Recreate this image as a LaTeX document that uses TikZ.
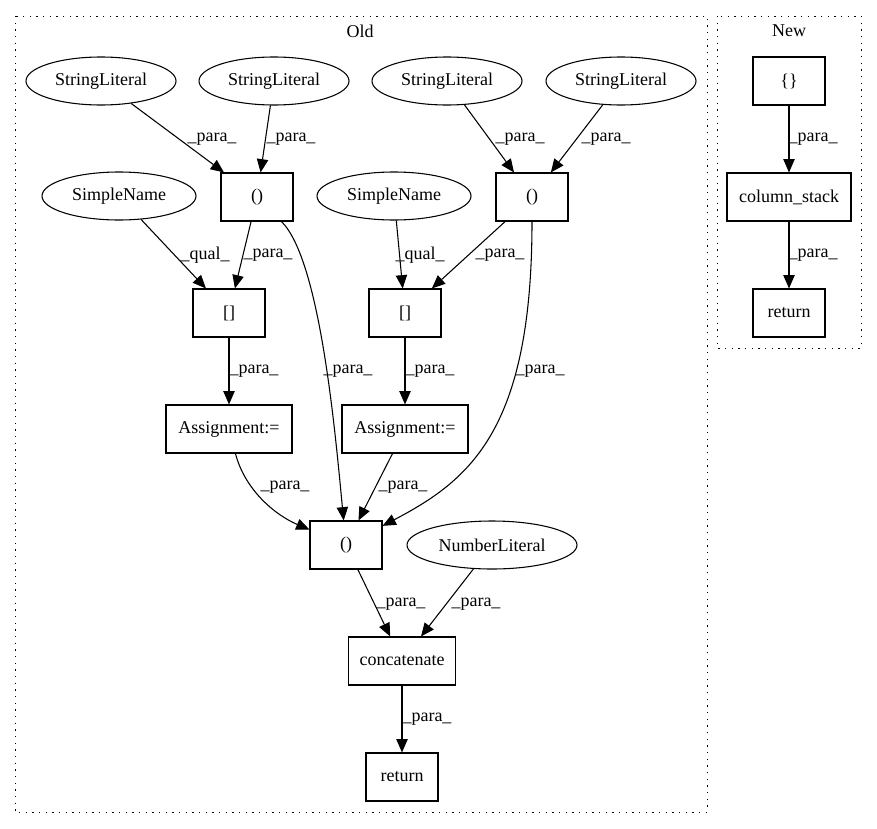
\documentclass[tikz,border=0pt]{standalone}
\usepackage{fontspec}
\setmainfont{Liberation Serif}
\usetikzlibrary{shapes.geometric,arrows.meta}
\tikzset{
  lit/.style={draw, ellipse, inner sep=0pt, minimum height=36pt, minimum width=112.5pt},
  op/.style={draw, rectangle, inner sep=0pt, minimum height=36pt, minimum width=54pt},
  flow/.style={-{Triangle[length=10pt,width=8.5pt]}},
  lbl/.style={inner sep=0pt},
  grp/.style={draw, line width=0.75pt, dash pattern=on 0.9pt off 4.1pt},
}

\begin{document}
\begin{tikzpicture}[x=0.75pt, y=-0.75pt, line width=0.8pt, font=\fontsize{13.5}{16}\selectfont]
  \useasboundingbox (0,0) rectangle (877,828);
  % clusters
  \draw[grp] (15,16) rectangle (707,812);
  \draw[grp] (717,16) rectangle (861,348);
  \node (old) at (360,31) {Old};
  \node (new) at (789,31) {New};

  % old
  \node[lit] (sla) at (101,81) {StringLiteral};
  \node[lit] (slb) at (274,81) {StringLiteral};
  \node[lit] (slc) at (447,81) {StringLiteral};
  \node[lit] (sld) at (621,81) {StringLiteral};
  \node[op] (pa) at (257,197) {()};
  \node[op] (pb) at (532,197) {()};
  \node[lit, minimum width=115.5pt] (sna) at (119,196) {SimpleName};
  \node[lit, minimum width=115.5pt] (snb) at (394,196) {SimpleName};
  \node[op] (ba) at (229,313) {[]};
  \node[op] (bb) at (405,313) {[]};
  \node[op, minimum width=94.5pt] (asa) at (229,429) {Assignment:=};
  \node[op, minimum width=94.5pt] (asb) at (405,429) {Assignment:=};
  \node[op] (pc) at (346,545) {()};
  \node[lit, minimum width=127.5pt] (num) at (492,545) {NumberLiteral};
  \node[op, minimum width=80.25pt] (cat) at (402,661) {concatenate};
  \node[op] (reta) at (402,777) {return};

  \draw[flow] (sla) -- (pa) node[lbl] (l1) at (212,139) {\_para\_};
  \draw[flow] (slb) -- (pa) node[lbl] (l2) at (291,139) {\_para\_};
  \draw[flow] (slc) -- (pb) node[lbl] (l3) at (520,139) {\_para\_};
  \draw[flow] (sld) -- (pb) node[lbl] (l4) at (606,139) {\_para\_};
  \draw[flow] (sna) -- (ba) node[lbl] (l5) at (205,255) {\_qual\_};
  \draw[flow] (pa) -- (ba) node[lbl] (l6) at (268,255) {\_para\_};
  \draw[flow] (snb) -- (bb) node[lbl] (l7) at (420,255) {\_qual\_};
  \draw[flow] (pb) -- (bb) node[lbl] (l8) at (500,255) {\_para\_};
  \draw[flow] (ba) -- (asa) node[lbl] (l9) at (254,371) {\_para\_};
  \draw[flow] (bb) -- (asb) node[lbl] (l10) at (430,371) {\_para\_};
  \draw[flow] (pa) .. controls (320,260) and (335,430) .. (pc) node[lbl] (l11) at (348,371) {\_para\_};
  \draw[flow] (pb) .. controls (532,430) and (470,480) .. (pc) node[lbl] (l12) at (540,371) {\_para\_};
  \draw[flow] (asa) .. controls (245,490) and (275,515) .. (pc) node[lbl] (l13) at (285,487) {\_para\_};
  \draw[flow] (asb) -- (pc) node[lbl] (l14) at (403,487) {\_para\_};
  \draw[flow] (pc) -- (cat) node[lbl] (l15) at (401,604) {\_para\_};
  \draw[flow] (num) -- (cat) node[lbl] (l16) at (476,604) {\_para\_};
  \draw[flow] (cat) -- (reta) node[lbl] (l17) at (427,719) {\_para\_};

  % new
  \node[op] (dict) at (789,81) {\{\}};
  \node[op, minimum width=93pt] (cs) at (789,197) {column\_stack};
  \node[op] (retb) at (789,313) {return};
  \draw[flow] (dict) -- (cs) node[lbl] (l18) at (813,139) {\_para\_};
  \draw[flow] (cs) -- (retb) node[lbl] (l19) at (813,255) {\_para\_};
\end{tikzpicture}
\end{document}
